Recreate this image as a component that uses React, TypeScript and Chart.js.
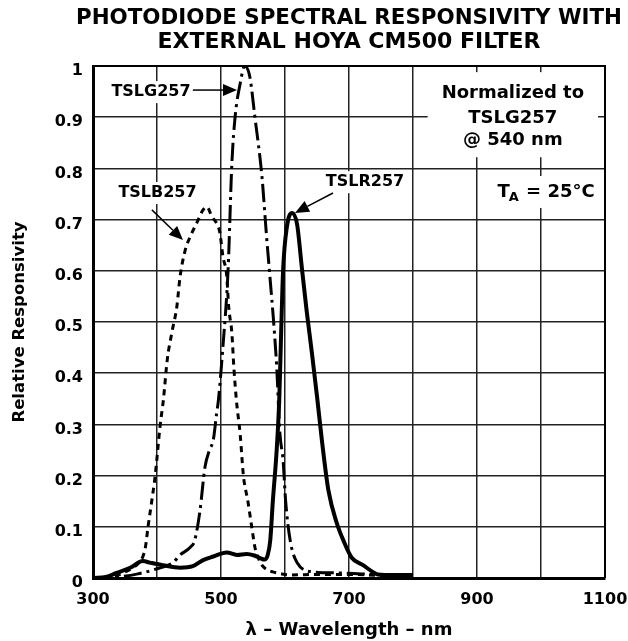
import { useEffect, useRef } from 'react';
import { Chart, registerables } from 'chart.js';

Chart.register(...registerables);

const FONT = '"DejaVu Sans", "Liberation Sans", sans-serif';

const titleLines = ['PHOTODIODE SPECTRAL RESPONSIVITY WITH', 'EXTERNAL HOYA CM500 FILTER'];
const xAxisTitle = 'λ – Wavelength – nm';
const yAxisTitle = 'Relative Responsivity';
const xTickLabels = [300, 500, 700, 900, 1100];

const blueWavelength = [300, 320, 340, 355, 365, 372, 378, 382, 386, 392, 397, 405, 410, 416, 423, 431, 436, 444, 452, 462, 472, 478, 486, 493, 498, 503, 509, 512, 517, 520, 524, 530, 535, 542, 548, 553, 558, 564, 572, 581, 595, 610, 650, 700, 750, 800];
const blueResponse = [0.0, 0.001, 0.006, 0.015, 0.022, 0.03, 0.042, 0.061, 0.1, 0.152, 0.198, 0.299, 0.348, 0.426, 0.478, 0.53, 0.588, 0.64, 0.667, 0.693, 0.719, 0.725, 0.705, 0.693, 0.676, 0.628, 0.59, 0.53, 0.478, 0.413, 0.348, 0.28, 0.2, 0.15, 0.1, 0.06, 0.04, 0.025, 0.016, 0.012, 0.008, 0.006, 0.007, 0.007, 0.005, 0.004];

const greenWavelength = [300, 340, 370, 400, 425, 436, 452, 459, 467, 475, 482, 488, 493, 496, 503, 511, 517, 522, 530, 537, 545, 553, 564, 571, 577, 582, 587, 592, 597, 601, 608, 619, 644, 680, 720, 760, 800];
const greenResponse = [0.0, 0.002, 0.008, 0.018, 0.03, 0.045, 0.06, 0.074, 0.13, 0.217, 0.25, 0.27, 0.32, 0.348, 0.452, 0.6, 0.81, 0.9, 0.966, 1.0, 0.979, 0.9, 0.784, 0.67, 0.58, 0.504, 0.413, 0.283, 0.23, 0.15, 0.074, 0.03, 0.012, 0.01, 0.008, 0.006, 0.005];

const redWavelength = [300, 320, 337, 358, 378, 389, 409, 436, 456, 472, 488, 509, 525, 540, 552, 561, 568, 573, 577, 581, 587, 591, 594, 597, 603, 611, 619, 626, 634, 642, 650, 658, 668, 681, 691, 704, 722, 737, 745, 770, 800];
const redResponse = [0.0, 0.002, 0.01, 0.02, 0.033, 0.03, 0.025, 0.02, 0.023, 0.035, 0.042, 0.05, 0.045, 0.047, 0.044, 0.039, 0.036, 0.045, 0.074, 0.15, 0.25, 0.348, 0.48, 0.6, 0.686, 0.713, 0.69, 0.61, 0.52, 0.44, 0.355, 0.265, 0.17, 0.107, 0.074, 0.04, 0.025, 0.012, 0.007, 0.006, 0.006];

const seriesNames = ['TSLR257', 'TSLG257', 'TSLB257'];
const noteLines = ['Normalized to', 'TSLG257', '@ 540 nm'];

// label anchors in data units (wavelength, response)
const seriesLabels = [
  { text: 'TSLG257', at: [390.6, 0.949], from: [456, 0.953], to: [525, 0.953] },
  { text: 'TSLB257', at: [400.8, 0.752], from: [392, 0.719], to: [440.6, 0.66] },
  { text: 'TSLR257', at: [725, 0.773], from: [675, 0.752], to: [615.6, 0.713] },
];
const noteAnchor = { nm: 956, values: [0.947, 0.898, 0.855] };
const tempAnchor = { nm: 1008, value: 0.754 };

const toPoints = (xs: number[], ys: number[]) => xs.map((x, i) => ({ x, y: ys[i] }));

function drawArrow(ctx: CanvasRenderingContext2D, x1: number, y1: number, x2: number, y2: number) {
  const ang = Math.atan2(y2 - y1, x2 - x1);
  const hl = 14;
  const hw = 6;
  const bx = x2 - hl * Math.cos(ang);
  const by = y2 - hl * Math.sin(ang);
  ctx.strokeStyle = '#000';
  ctx.fillStyle = '#000';
  ctx.lineWidth = 1.5;
  ctx.beginPath();
  ctx.moveTo(x1, y1);
  ctx.lineTo(bx, by);
  ctx.stroke();
  ctx.beginPath();
  ctx.moveTo(x2, y2);
  ctx.lineTo(bx + hw * Math.sin(ang), by - hw * Math.cos(ang));
  ctx.lineTo(bx - hw * Math.sin(ang), by + hw * Math.cos(ang));
  ctx.closePath();
  ctx.fill();
}

const annotationPlugin = {
  id: 'annotations',
  beforeDatasetsDraw(chart: any) {
    const ctx: CanvasRenderingContext2D = chart.ctx;
    const xs = chart.scales.x;
    const ys = chart.scales.y;
    const P = (nm: number, v: number) => [xs.getPixelForValue(nm), ys.getPixelForValue(v)];
    ctx.save();
    ctx.textAlign = 'center';
    ctx.textBaseline = 'middle';

    for (const lab of seriesLabels) {
      ctx.font = `bold 16px ${FONT}`;
      const [cx, cy] = P(lab.at[0], lab.at[1]);
      const w = ctx.measureText(lab.text).width;
      ctx.fillStyle = '#fff';
      ctx.fillRect(cx - w / 2 - 6, cy - 11, w + 12, 22);
      ctx.fillStyle = '#000';
      ctx.fillText(lab.text, cx, cy);
      const [x1, y1] = P(lab.from[0], lab.from[1]);
      const [x2, y2] = P(lab.to[0], lab.to[1]);
      drawArrow(ctx, x1, y1, x2, y2);
    }

    // normalization note
    ctx.font = `bold 18px ${FONT}`;
    const cxN = xs.getPixelForValue(noteAnchor.nm);
    const ysN = noteAnchor.values.map((v) => ys.getPixelForValue(v));
    const wN = Math.max(...noteLines.map((t) => ctx.measureText(t).width));
    ctx.fillStyle = '#fff';
    ctx.fillRect(cxN - wN / 2 - 14, ysN[0] - 21, wN + 28, ysN[2] - ysN[0] + 38);
    ctx.fillStyle = '#000';
    noteLines.forEach((t, i) => ctx.fillText(t, cxN, ysN[i]));

    // T_A = 25°C
    const [tx, ty] = P(tempAnchor.nm, tempAnchor.value);
    ctx.textAlign = 'left';
    const big = `bold 18px ${FONT}`;
    const small = `bold 13px ${FONT}`;
    ctx.font = big;
    const wT = ctx.measureText('T').width;
    const wRest = ctx.measureText(' = 25°C').width;
    ctx.font = small;
    const wA = ctx.measureText('A').width;
    const total = wT + wA + wRest;
    let x0 = tx - total / 2;
    ctx.fillStyle = '#fff';
    ctx.fillRect(x0 - 4, ty - 16, total + 8, 32);
    ctx.fillStyle = '#000';
    ctx.font = big;
    ctx.fillText('T', x0, ty);
    x0 += wT - 1;
    ctx.font = small;
    ctx.fillText('A', x0, ty + 6);
    x0 += wA + 1;
    ctx.font = big;
    ctx.fillText(' = 25°C', x0, ty);
    ctx.restore();
  },
  afterDraw(chart: any) {
    const ctx: CanvasRenderingContext2D = chart.ctx;
    const { left, right, top, bottom } = chart.chartArea;
    ctx.save();
    ctx.strokeStyle = '#000';
    ctx.lineWidth = 2;
    ctx.beginPath();
    ctx.moveTo(left, top);
    ctx.lineTo(right, top);
    ctx.lineTo(right, bottom);
    ctx.stroke();
    // chart title, centred over the plot area
    ctx.fillStyle = '#000';
    ctx.textAlign = 'center';
    ctx.textBaseline = 'middle';
    ctx.font = `bold 22px ${FONT}`;
    const cx = (left + right) / 2;
    const maxWidths = [546, 402];
    titleLines.forEach((t, i) => ctx.fillText(t, cx, 18 + i * 24, maxWidths[i]));
    ctx.restore();
  },
};

export default function App() {
  const ref = useRef<HTMLCanvasElement | null>(null);
  useEffect(() => {
    if (!ref.current) return;
    const chart = new Chart(ref.current, {
      type: 'line',
      data: {
        datasets: [
          {
            label: seriesNames[0],
            data: toPoints(redWavelength, redResponse),
            borderColor: '#000',
            borderWidth: 4,
            pointRadius: 0,
            cubicInterpolationMode: 'monotone',
            fill: false,
          },
          {
            label: seriesNames[1],
            data: toPoints(greenWavelength, greenResponse),
            borderColor: '#000',
            borderWidth: 3,
            borderDash: [18, 5, 3, 5],
            pointRadius: 0,
            cubicInterpolationMode: 'monotone',
            fill: false,
          },
          {
            label: seriesNames[2],
            data: toPoints(blueWavelength, blueResponse),
            borderColor: '#000',
            borderWidth: 3,
            borderDash: [6, 5],
            pointRadius: 0,
            cubicInterpolationMode: 'monotone',
            fill: false,
          },
        ],
      },
      options: {
        responsive: false,
        animation: false,
        devicePixelRatio: 1,
        layout: { padding: { left: 0, right: 23, top: 66, bottom: 0 } },
        plugins: {
          legend: { display: false },
          tooltip: { enabled: false },
          title: { display: false },
        },
        scales: {
          x: {
            type: 'linear',
            min: 300,
            max: 1100,
            afterFit: (s: any) => {
              s.height = 63;
              s.paddingLeft = 0;
              s.paddingRight = 0;
            },
            ticks: {
              stepSize: 100,
              autoSkip: false,
              maxRotation: 0,
              padding: 12,
              color: '#000',
              font: { family: FONT, size: 16, weight: 'bold' },
              callback: (v: any) => (xTickLabels.includes(Number(v)) ? String(v) : ''),
            },
            grid: { color: '#222', lineWidth: 1.5, drawTicks: false },
            border: { color: '#000', width: 3 },
            title: {
              display: true,
              text: xAxisTitle,
              color: '#000',
              font: { family: FONT, size: 18, weight: 'bold', lineHeight: 1.2 },
              padding: { top: 0, bottom: 0 },
            },
          },
          y: {
            type: 'linear',
            min: 0,
            max: 1,
            afterFit: (s: any) => {
              s.width = 93;
            },
            ticks: {
              stepSize: 0.1,
              padding: 10,
              labelOffset: 5,
              color: '#000',
              font: { family: FONT, size: 16, weight: 'bold' },
              callback: (v: any) => {
                const r = Math.round(Number(v) * 10) / 10;
                return r === 0 ? '0' : r === 1 ? '1' : r.toFixed(1);
              },
            },
            grid: { color: '#222', lineWidth: 1.5, drawTicks: false },
            border: { color: '#000', width: 3 },
            title: {
              display: true,
              text: yAxisTitle,
              color: '#000',
              font: { family: FONT, size: 16.5, weight: 'bold', lineHeight: 1.2 },
              padding: { top: 10, bottom: 0 },
            },
          },
        },
      },
      plugins: [annotationPlugin],
    } as any);
    return () => chart.destroy();
  }, []);
  return (
    <div style={{ position: 'absolute', left: 0, top: 0, width: 628, height: 641, background: '#fff' }}>
      <canvas ref={ref} width={628} height={641} style={{ display: 'block', width: 628, height: 641 }} />
    </div>
  );
}
